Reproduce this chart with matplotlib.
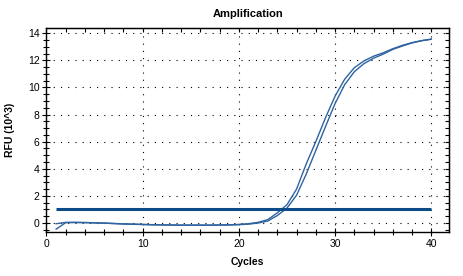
import matplotlib
matplotlib.use("Agg")
import matplotlib.pyplot as plt
from matplotlib.ticker import MultipleLocator

plt.rcParams['font.family'] = ['Liberation Sans', 'DejaVu Sans']

cycles = list(range(1, 41))
rfu_a = [-0.05, 0.05, 0.05, 0.04, 0.02, 0.0, -0.03, -0.06, -0.08, -0.10,
         -0.12, -0.13, -0.14, -0.15, -0.15, -0.15, -0.15, -0.14, -0.13, -0.10,
         -0.05, 0.05, 0.25, 0.75, 1.35, 2.50, 4.35, 6.00, 7.75, 9.35,
         10.60, 11.45, 11.95, 12.30, 12.55, 12.85, 13.10, 13.30, 13.45, 13.56]
rfu_b = [-0.45, 0.03, 0.04, 0.03, 0.01, -0.01, -0.04, -0.07, -0.09, -0.11,
         -0.13, -0.14, -0.15, -0.16, -0.16, -0.16, -0.16, -0.15, -0.14, -0.12,
         -0.08, 0.00, 0.15, 0.55, 1.10, 2.05, 3.60, 5.35, 7.10, 8.80,
         10.20, 11.15, 11.75, 12.15, 12.45, 12.80, 13.05, 13.28, 13.44, 13.55]
threshold_x = [1, 40]
threshold_y = [1.0, 1.0]

fig = plt.figure(figsize=(4.64, 2.76), dpi=100)
ax = fig.add_axes([46.5/464, 44/276, 402.5/464, 204/276])

curve_color = '#2e639f'
ax.plot(cycles, rfu_a, color=curve_color, lw=1.0, zorder=3)
ax.plot(cycles, rfu_b, color=curve_color, lw=1.0, zorder=3)
ax.plot(threshold_x, threshold_y, color='#0c4a88', lw=2.2, zorder=4, solid_capstyle='butt')

ax.set_xlim(0, 41.85)
ax.set_ylim(-0.66, 14.38)
ax.xaxis.set_major_locator(MultipleLocator(10))
ax.xaxis.set_minor_locator(MultipleLocator(2))
ax.yaxis.set_major_locator(MultipleLocator(2))
ax.yaxis.set_minor_locator(MultipleLocator(0.5))

ax.grid(True, which='major', color='black', linestyle=(0, (1, 5.5)), linewidth=0.8)

for s in ax.spines.values():
    s.set_linewidth(1.0)

ax.tick_params(which='both', direction='inout', labelsize=7.5, width=0.8, pad=2)
ax.tick_params(which='major', length=6)
ax.tick_params(which='minor', length=5)

# inward ticks on top and right
sx = ax.secondary_xaxis('top')
sx.xaxis.set_major_locator(MultipleLocator(10))
sx.xaxis.set_minor_locator(MultipleLocator(2))
sx.tick_params(which='both', direction='in', length=3, width=0.8, labeltop=False)
sy = ax.secondary_yaxis('right')
sy.yaxis.set_major_locator(MultipleLocator(2))
sy.yaxis.set_minor_locator(MultipleLocator(0.5))
sy.tick_params(which='both', direction='in', length=3, width=0.8, labelright=False)

ax.set_title('Amplification', fontsize=8, fontweight='bold', pad=8)
ax.set_xlabel('Cycles', fontsize=7.5, fontweight='bold', labelpad=6)
ax.set_ylabel('RFU (10^3)', fontsize=7.5, fontweight='bold', labelpad=9)

fig.savefig('out.png', dpi=100)
